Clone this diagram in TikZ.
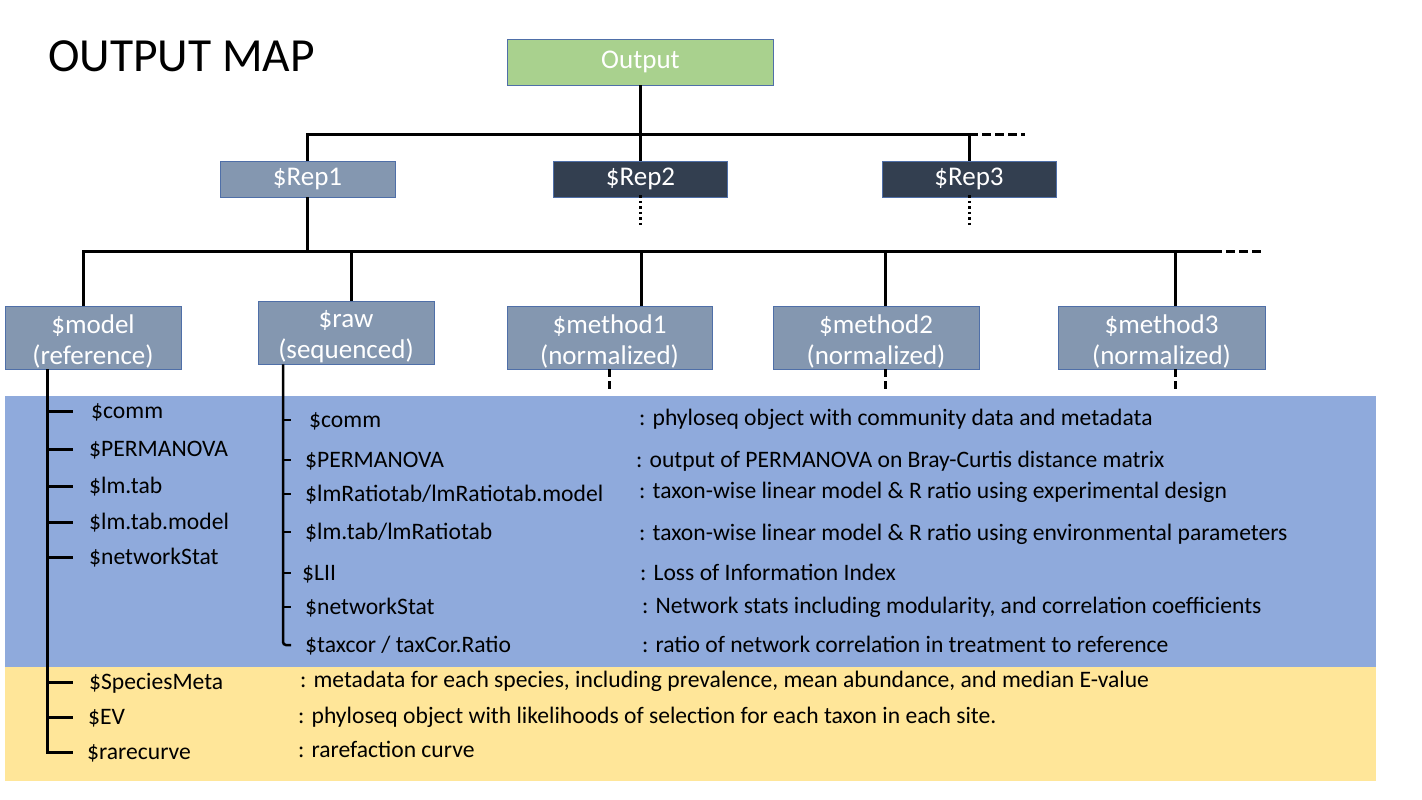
\documentclass[tikz,border=0pt]{standalone}
\usepackage{fontspec}
\setmainfont{Carlito}
\definecolor{outg}{HTML}{A9D18E}
\definecolor{boxl}{HTML}{8497B0}
\definecolor{boxd}{HTML}{333F50}
\definecolor{bord}{HTML}{4F6FA8}
\definecolor{bandb}{HTML}{8FAADC}
\definecolor{bandy}{HTML}{FFE699}
\tikzset{
 box/.style={draw=bord, line width=0.9pt, inner sep=0pt, text=white, align=center, font=\fontsize{27}{31}\selectfont},
 lbox/.style={box, fill=boxl},
 dbox/.style={box, fill=boxd},
 conn/.style={line width=3pt, black},
 ext/.style={line width=3pt, dash pattern=on 9pt off 4pt},
 dotl/.style={line width=3pt, dash pattern=on 2.5pt off 3pt},
 shortdash/.style={line width=3pt, dash pattern=on 8pt off 4pt},
 item/.style={anchor=west, inner sep=0pt, text height=14pt, text depth=0pt, font=\fontsize{23.6}{28}\selectfont},
 rtick/.style={line width=2.5pt, black},
}
\newcommand{\lift}{\rule{0pt}{26pt}}
\begin{document}
\begin{tikzpicture}[x=1pt,y=-1pt]
\useasboundingbox (0,0) rectangle (1422,800);
% bands
\fill[bandb] (5,396) rectangle (1376,667);
\fill[bandy] (5,667) rectangle (1376,781);
% title
\node[anchor=base west, inner sep=0pt, font=\fontsize{47.5}{56}\selectfont] (title) at (48,72) {OUTPUT MAP};
% boxes
\node[box, fill=outg, minimum width=266pt, minimum height=46pt] (out) at (640.5,62) {Output};
\node[lbox, minimum width=175pt, minimum height=36pt] (rep1) at (307.5,179) {\$Rep1};
\node[dbox, minimum width=174pt, minimum height=36pt] (rep2) at (640.5,179) {\$Rep2};
\node[dbox, minimum width=174pt, minimum height=36pt] (rep3) at (969,179) {\$Rep3};
\node[lbox, minimum width=176pt, minimum height=63pt] (model) at (93,337.5) {\lift\$model\\(reference)};
\node[lbox, minimum width=176pt, minimum height=63pt] (raw) at (346,332.5) {\lift\$raw\\(sequenced)};
\node[lbox, minimum width=205pt, minimum height=63pt] (m1) at (609.5,337.5) {\lift\$method1\\(normalized)};
\node[lbox, minimum width=206pt, minimum height=63pt] (m2) at (876,337.5) {\lift\$method2\\(normalized)};
\node[lbox, minimum width=207pt, minimum height=63pt] (m3) at (1161.5,337.5) {\lift\$method3\\(normalized)};
% top bus
\coordinate (b1e) at (969,134);
\coordinate (b1x) at (1025,134);
\draw[conn] (out.south) -- (rep2.north);
\draw[conn] (rep1.north) |- (b1e) -- (rep3.north);
\draw[ext] (b1e) -- (b1x);
\coordinate (d2) at (640.5,227);
\coordinate (d3) at (969,227);
\draw[dotl] ([yshift=2pt]rep2.south) -- (d2);
\draw[dotl] ([yshift=2pt]rep3.south) -- (d3);
% second bus
\coordinate (b2e) at (1213,251);
\coordinate (b2x) at (1262,251);
\draw[conn] (rep1.south) -- (rep1.south |- b2e);
\draw[conn] ([xshift=-10pt]model.north) |- (b2e);
\draw[ext] (b2e) -- (b2x);
\coordinate (jr) at (351,251);
\coordinate (j1) at (641,251);
\coordinate (j2) at (885,251);
\coordinate (j3) at (1175,251);
\draw[conn] (jr) -- (jr |- raw.north);
\draw[conn] (j1) -- (j1 |- m1.north);
\draw[conn] (j2) -- (j2 |- m2.north);
\draw[conn] (j3) -- (j3 |- m3.north);
\coordinate (e1) at (609.5,391);
\coordinate (e2) at (885,391);
\coordinate (e3) at (1175,391);
\draw[shortdash] (m1.south) -- (e1);
\draw[shortdash] (j2 |- m2.south) -- (e2);
\draw[shortdash] (j3 |- m3.south) -- (e3);
% model items
\node[item] (mcomm) at (91,411) {\$comm};
\node[item] (mperm) at (89,449) {\$PERMANOVA};
\node[item] (mlm) at (89,486) {\$lm.tab};
\node[item] (mlmm) at (89,522) {\$lm.tab.model};
\node[item] (mnet) at (89,557) {\$networkStat};
\node[item] (mspec) at (89,682) {\$SpeciesMeta};
\node[item] (mev) at (88,717) {\$EV};
\node[item] (mrare) at (87,752) {\$rarecurve};
\coordinate (mt) at ([xshift=-46pt]model.south);
\draw[conn] (mt) |- ([xshift=-14pt]mrare.west);
\foreach \n/\s in {mcomm/18,mperm/16,mlm/16,mlmm/16,mnet/16,mspec/16,mev/15} {
  \draw[conn] (\n.west -| mt) -- ([xshift=-\s pt]\n.west);
}
% raw items
\node[item] (rcomm) at (309,420) {\$comm};
\node[item] (rperm) at (305,460) {\$PERMANOVA};
\node[item] (rlmr) at (305,494) {\$lmRatiotab/lmRatiotab.model};
\node[item] (rlm) at (305,532) {\$lm.tab/lmRatiotab};
\node[item] (rlii) at (302,573) {\$LII};
\node[item] (rnet) at (305,607) {\$networkStat};
\node[item] (rtax) at (305,645) {\$taxcor / taxCor.Ratio};
\coordinate (rt) at ([xshift=-63pt]raw.south);
\draw[rtick, rounded corners=3pt] (rt) |- ([xshift=-14pt]rtax.west);
\foreach \n/\s in {rcomm/18,rperm/14,rlmr/14,rlm/14,rlii/11,rnet/14} {
  \draw[rtick] (\n.west -| rt) -- ([xshift=-\s pt]\n.west);
}
% descriptions
\node[item] (dcomm) at (639,418) {: phyloseq object with community data and metadata};
\node[item] (dperm) at (636,460) {: output of PERMANOVA on Bray-Curtis distance matrix};
\node[item] (dlmr) at (639,491) {: taxon-wise linear model \& R ratio using experimental design};
\node[item] (dlm) at (639,533) {: taxon-wise linear model \& R ratio using environmental parameters};
\node[item] (dlii) at (640,573) {: Loss of Information Index};
\node[item] (dnet) at (642,606) {: Network stats including modularity, and correlation coefficients};
\node[item] (dtax) at (642,645) {: ratio of network correlation in treatment to reference};
\node[item] (dspec) at (300,680) {: metadata for each species, including prevalence, mean abundance, and median E-value};
\node[item] (dev) at (298,716) {: phyloseq object with likelihoods of selection for each taxon in each site.};
\node[item] (drare) at (298,750) {: rarefaction curve};
\end{tikzpicture}
\end{document}
